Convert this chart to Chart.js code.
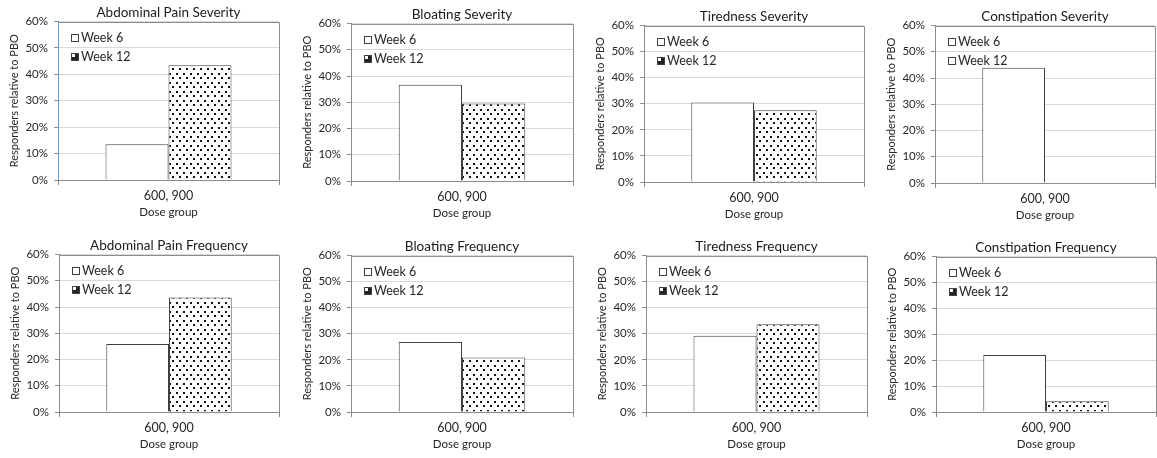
<!DOCTYPE html>
<html>
<head>
<meta charset="utf-8">
<script src="https://cdn.jsdelivr.net/npm/chart.js@4.4.1/dist/chart.umd.min.js"></script>
<style>
  body { margin: 0; background: #fff; width: 1157px; height: 458px; position: relative; overflow: hidden; }
  canvas { position: absolute; }
</style>
</head>
<body>
<script>
// data (percent responders relative to PBO)
const titles = [
  "Abdominal Pain Severity", "Bloating Severity", "Tiredness Severity", "Constipation Severity",
  "Abdominal Pain Frequency", "Bloating Frequency", "Tiredness Frequency", "Constipation Frequency"
];
const doseGroups = ["600, 900"];
const seriesNames = ["Week 6", "Week 12"];
const week6 = [13.5, 36.7, 30.5, 43.9, 25.9, 26.8, 29.2, 22.0];
const week12 = [43.4, 29.5, 27.5, null, 43.6, 20.9, 33.6, 4.1];
const yMax = 60;
const yStep = 10;

// panel placement: canvas origin + plot box inside it
const colX = [0, 290, 580, 869];
const rowY = [0, 229];
const W = 288, H = 229;
const boxes = [
  { left: 58, right: 279, top: 22, bottom: 180 },
  { left: 61, right: 283, top: 24, bottom: 181 },
  { left: 64, right: 284, top: 26, bottom: 182 },
  { left: 66, right: 286, top: 26, bottom: 183 },
  { left: 59, right: 279, top: 26, bottom: 183 },
  { left: 61, right: 283, top: 27, bottom: 183 },
  { left: 66, right: 287, top: 27, bottom: 183 },
  { left: 67, right: 287, top: 28, bottom: 183 }
];

const FONT = "Lato, 'Open Sans', sans-serif";
const textCol = "#262626";

function dotPattern() {
  const c = document.createElement("canvas");
  c.width = 7; c.height = 9;
  const g = c.getContext("2d");
  g.fillStyle = "#fff";
  g.fillRect(0, 0, 7, 9);
  g.fillStyle = "#111";
  g.fillRect(1, 1, 2, 2);
  g.fillRect(4, 5, 2, 2);
  return g.createPattern(c, "repeat");
}

// frame around the plot + legend in the upper-left corner
const framePlugin = {
  id: "frame",
  afterDraw(chart) {
    const { ctx, chartArea: a } = chart;
    ctx.save();
    ctx.strokeStyle = "#8c8c8c";
    ctx.lineWidth = 1;
    ctx.beginPath();
    ctx.moveTo(Math.round(a.left) + 0.5, Math.round(a.top) + 0.5);
    ctx.lineTo(Math.round(a.right) + 0.5, Math.round(a.top) + 0.5);
    ctx.lineTo(Math.round(a.right) + 0.5, Math.round(a.bottom) + 0.5);
    ctx.stroke();

    ctx.font = "12.5px " + FONT;
    ctx.textBaseline = "middle";
    chart.data.datasets.forEach((ds, i) => {
      const x = Math.round(a.left + 13), y = Math.round(a.top + 16 + i * 19);
      const empty = ds.data.every(v => v == null);
      ctx.fillStyle = "#fff";
      ctx.fillRect(x, y - 4, 8, 8);
      if (i === 1 && !empty) {
        ctx.fillStyle = "#222";
        ctx.fillRect(x + 1, y - 3, 6, 6);
        ctx.fillStyle = "#fff";
        ctx.fillRect(x + 1, y - 3, 3, 3);
      }
      ctx.strokeStyle = "#404040";
      ctx.strokeRect(x + 0.5, y - 3.5, 7, 7);
      ctx.fillStyle = textCol;
      ctx.fillText(ds.label, x + 10, y);
    });
    ctx.restore();
  }
};

const pattern = dotPattern();

titles.forEach((title, i) => {
  const box = boxes[i];
  const cv = document.createElement("canvas");
  cv.width = W; cv.height = H;
  cv.style.left = colX[i % 4] + "px";
  cv.style.top = rowY[Math.floor(i / 4)] + "px";
  document.body.appendChild(cv);

  const lh = 11.5 * 1.2;

  new Chart(cv, {
    type: "bar",
    data: {
      labels: doseGroups,
      datasets: [
        { label: seriesNames[0], data: [week6[i]], backgroundColor: "#fff", borderColor: "#404040", borderWidth: 1 },
        { label: seriesNames[1], data: [week12[i]], backgroundColor: pattern, borderColor: "#404040", borderWidth: 1 }
      ]
    },
    options: {
      responsive: false,
      animation: false,
      devicePixelRatio: 1,
      layout: { padding: { left: 0, right: W - box.right, top: 0, bottom: 0 } },
      datasets: { bar: { barPercentage: 1, categoryPercentage: 0.57 } },
      plugins: {
        legend: { display: false },
        tooltip: { enabled: false },
        title: {
          display: true, text: title, color: "#1a1a1a", fullSize: false,
          font: { family: FONT, size: 13.5, weight: "normal", lineHeight: 1 },
          padding: { top: box.top - 16, bottom: 2 }
        }
      },
      scales: {
        x: {
          offset: true,
          grid: { display: true, drawOnChartArea: false, offset: true, tickLength: 5, tickColor: "#8c8c8c" },
          border: { color: "#8c8c8c" },
          ticks: { color: textCol, font: { family: FONT, size: 12.5 }, padding: 3 },
          title: {
            display: true, text: "Dose group", color: textCol,
            font: { family: FONT, size: 11.5 },
            padding: { top: 0, bottom: H - (box.bottom + 32) - lh / 2 }
          },
          afterFit: s => { s.height = H - box.bottom; }
        },
        y: {
          min: 0, max: yMax,
          grid: { color: "#d9d9d9", tickColor: "#8c8c8c", tickLength: 4 },
          border: { color: i === 0 ? "#5b9bd5" : "#8c8c8c" },
          ticks: {
            stepSize: yStep, padding: 6, color: textCol,
            font: { family: FONT, size: 11.5 },
            callback: v => v + "%"
          },
          title: {
            display: true, text: "Responders relative to PBO", color: textCol,
            font: { family: FONT, size: 11 },
            padding: { top: box.left - 43 - lh / 2, bottom: 0 }
          },
          afterFit: s => { s.width = box.left; }
        }
      }
    },
    plugins: [framePlugin]
  });
});
</script>
</body>
</html>
